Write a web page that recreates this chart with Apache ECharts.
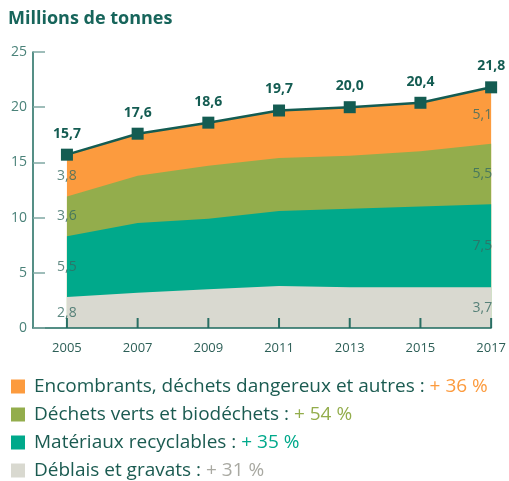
<!DOCTYPE html>
<html>
<head>
<meta charset="utf-8">
<script src="https://cdn.jsdelivr.net/npm/echarts@6/dist/echarts.min.js"></script>
<style>
  html, body { margin: 0; padding: 0; background: #fff; }
  #chart { width: 509px; height: 481px; }
</style>
</head>
<body>
<div id="chart"></div>
<script>
const years = [2005, 2007, 2009, 2011, 2013, 2015, 2017];
const totals = [15.7, 17.6, 18.6, 19.7, 20.0, 20.4, 21.8];
// layers, bottom to top
const deblais = [2.8, 3.2, 3.5, 3.8, 3.7, 3.7, 3.7];
const materiaux = [5.5, 6.3, 6.4, 6.8, 7.1, 7.3, 7.5];
const verts = [3.6, 4.3, 4.8, 4.8, 4.8, 5.0, 5.5];
const encombrants = [3.8, 3.8, 3.9, 4.3, 4.4, 4.4, 5.1];
const yTicks = [0, 5, 10, 15, 20, 25];

const layers = [
  {name: 'Déblais et gravats', values: deblais, color: '#d9d9d0', pct: '+ 31 %', pctColor: '#a9a9a2'},
  {name: 'Matériaux recyclables', values: materiaux, color: '#00a98b', pct: '+ 35 %', pctColor: '#00a98b'},
  {name: 'Déchets verts et biodéchets', values: verts, color: '#93ad4c', pct: '+ 54 %', pctColor: '#93ad4c'},
  {name: 'Encombrants, déchets dangereux et autres', values: encombrants, color: '#fc9b3e', pct: '+ 36 %', pctColor: '#fc9b3e'}
];

const dark = '#145c52';
const fmt = v => v.toFixed(1).replace('.', ',');
const last = years.length - 1;

// cumulative tops of each layer (value x axis does not stack on y, so sum here)
let below = years.map(() => 0);
const cum = layers.map(l => {
  const top = below.map((b, i) => b + l.values[i]);
  const mid = below.map((b, i) => b + l.values[i] / 2);
  below = top;
  return {top, mid};
});

let areaSeries = [];
let labelSeries = [];
layers.forEach((l, k) => {
  areaSeries.push({
    name: l.name,
    type: 'line',
    symbol: 'none',
    lineStyle: {width: 0},
    areaStyle: {color: l.color, opacity: 1},
    itemStyle: {color: l.color},
    data: years.map((y, i) => [y, cum[k].top[i]]),
    z: 1
  });
  labelSeries.push({
    type: 'scatter',
    symbolSize: 0,
    silent: true,
    z: 5,
    data: [
      {value: [years[0], cum[k].mid[0]], label: {align: 'center', formatter: fmt(l.values[0])}},
      {value: [years[last], cum[k].mid[last]], label: {align: 'right', offset: [1, 0], formatter: fmt(l.values[last])}}
    ],
    label: {
      show: true,
      position: 'inside',
      fontFamily: 'Open Sans',
      fontSize: 14,
      color: '#356a61'
    }
  });
});

// upper layers first so lower ones paint over them
let series = areaSeries.slice().reverse().concat(labelSeries);

// year ticks pointing up from the x axis, drawn over the areas
series.push({
  type: 'scatter',
  silent: true,
  clip: false,
  symbol: 'rect',
  symbolSize: [2, 10],
  symbolOffset: [0, '-50%'],
  itemStyle: {color: '#2a6f64', opacity: 1},
  data: years.map(y => [y, 0]),
  z: 6
});

series.push({
  name: 'Total',
  type: 'line',
  symbol: 'rect',
  symbolSize: 12,
  lineStyle: {color: dark, width: 2.5},
  itemStyle: {color: dark},
  data: years.map((y, i) => [y, totals[i]]),
  label: {
    show: true,
    position: 'top',
    distance: 8,
    fontFamily: 'Open Sans',
    fontWeight: 'bold',
    fontSize: 14,
    color: dark,
    formatter: p => fmt(p.data[1])
  },
  z: 10
});

const rich = {n: {fontFamily: 'Open Sans', fontSize: 19, color: '#1b5b51', padding: [0, 0, 0, 4], lineHeight: 22}};
layers.forEach((l, k) => { rich['p' + k] = {fontFamily: 'Open Sans', fontSize: 19, color: l.pctColor, lineHeight: 22}; });

const chart = echarts.init(document.getElementById('chart'));
chart.setOption({
  animation: false,
  title: {
    text: 'Millions de tonnes',
    left: 3,
    top: 5,
    textStyle: {fontFamily: 'Open Sans', fontSize: 18, fontWeight: 'bold', color: '#17655b'}
  },
  grid: {left: 33, right: 16, top: 52, bottom: 153},
  legend: {
    orient: 'vertical',
    left: 6,
    top: 372,
    height: 200,
    itemWidth: 14,
    itemHeight: 14,
    itemGap: 9,
    icon: 'rect',
    data: layers.slice().reverse().map(l => l.name),
    formatter: name => {
      const k = layers.findIndex(l => l.name === name);
      return '{n|' + name + ' : }{p' + k + '|' + layers[k].pct + '}';
    },
    textStyle: {rich: rich}
  },
  xAxis: {
    type: 'value',
    min: 2004.04,
    max: 2017,
    z: 8,
    axisLine: {lineStyle: {color: '#1d6a5e', width: 1.5}},
    axisTick: {show: false},
    axisLabel: {customValues: years, margin: 14, fontFamily: 'Open Sans', fontSize: 13, color: '#2d5f57', formatter: v => String(v)},
    splitLine: {show: false}
  },
  yAxis: {
    type: 'value',
    min: 0,
    max: 25,
    interval: 5,
    z: 8,
    axisLine: {show: true, lineStyle: {color: '#1d6a5e', width: 1.5}},
    axisTick: {show: true, inside: true, length: 12, lineStyle: {color: '#7fa8a2', width: 1.5}},
    axisLabel: {margin: 6, fontFamily: 'Open Sans', fontSize: 14, color: '#4a8279', formatter: v => yTicks.includes(v) ? String(v) : ''},
    splitLine: {show: false}
  },
  series: series
});
</script>
</body>
</html>
